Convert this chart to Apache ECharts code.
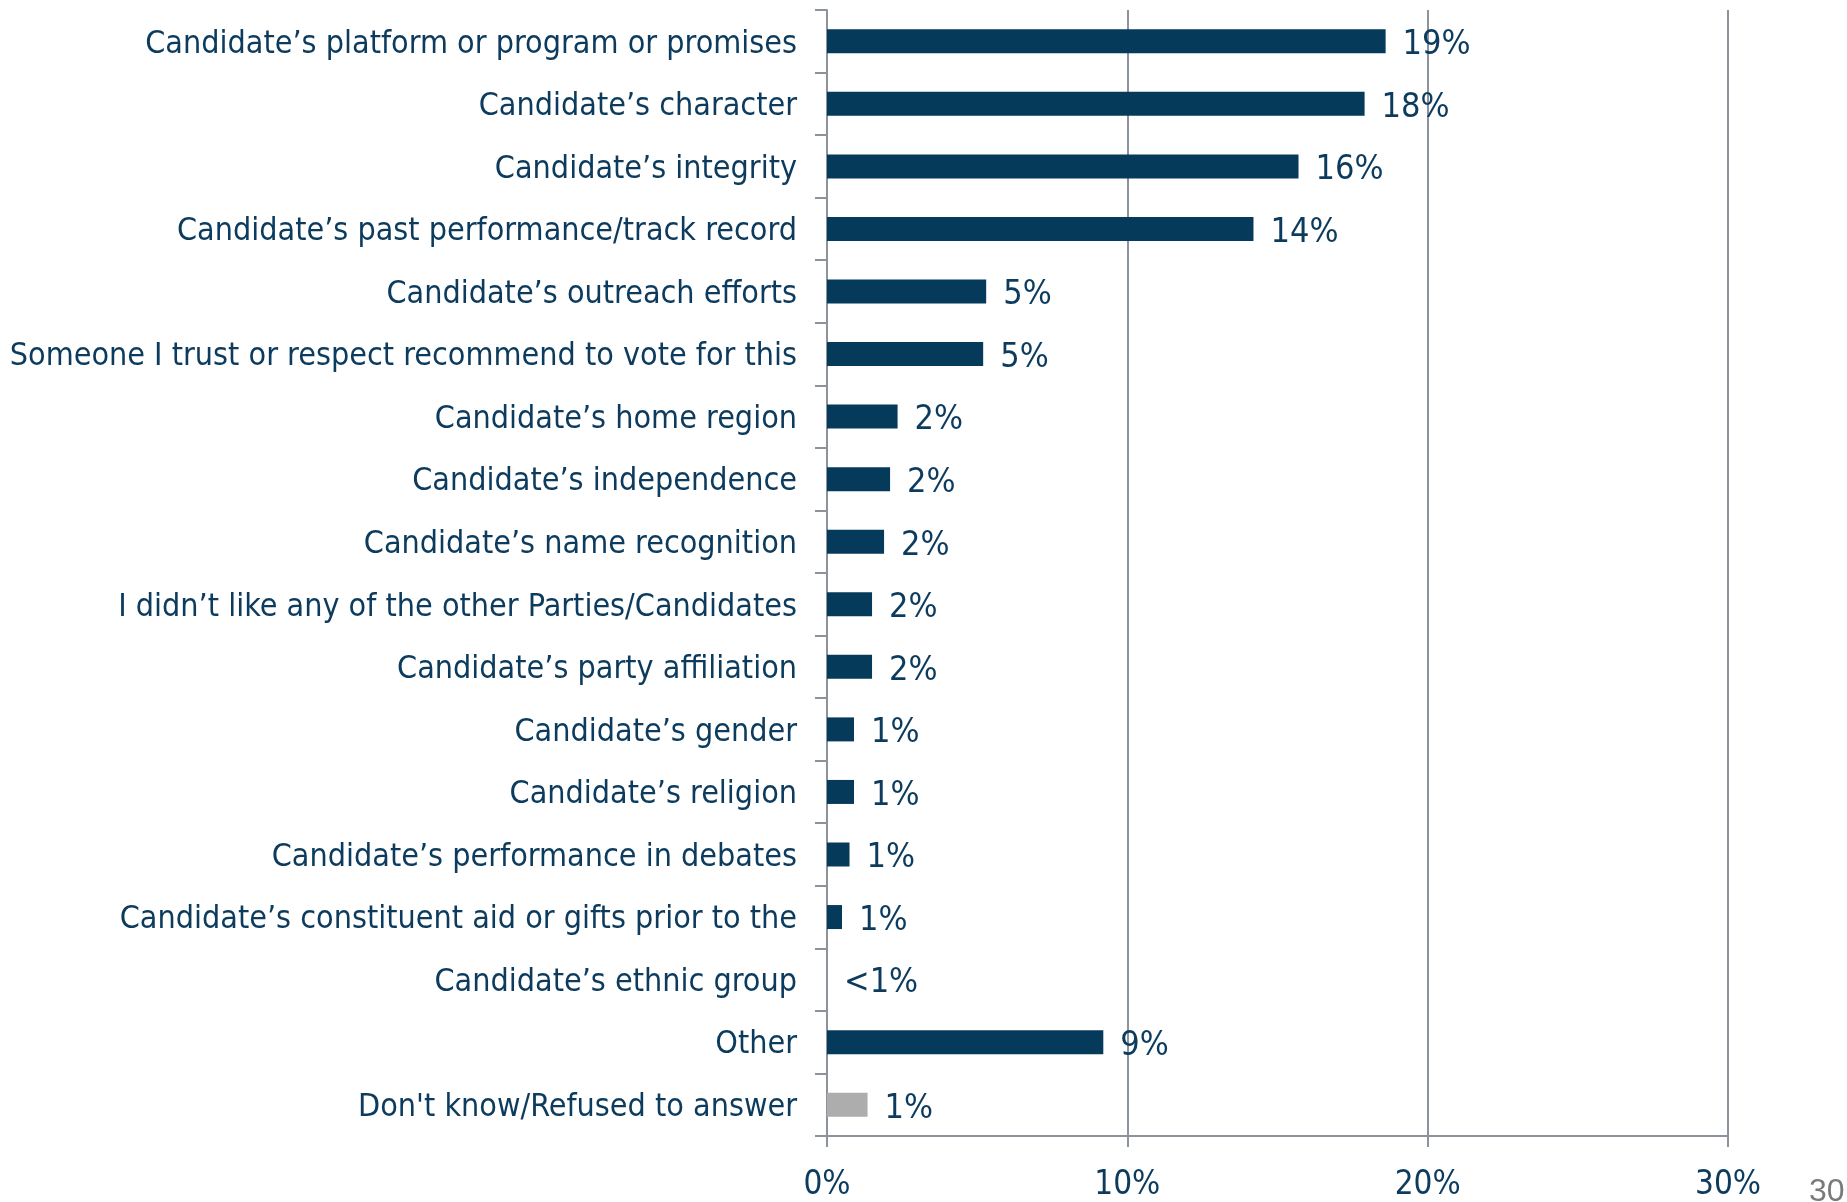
<!DOCTYPE html>
<html>
<head>
<meta charset="utf-8">
<script src="https://cdn.jsdelivr.net/npm/echarts@6/dist/echarts.min.js"></script>
<style>
  html, body { margin: 0; padding: 0; background: #fff; }
  #main { width: 1847px; height: 1202px; }
</style>
</head>
<body>
<div id="main"></div>
<script>
// categories, top to bottom
const categories = [
  'Candidate’s platform or program or promises',
  'Candidate’s character',
  'Candidate’s integrity',
  'Candidate’s past performance/track record',
  'Candidate’s outreach efforts',
  'Someone I trust or respect recommend to vote for this',
  'Candidate’s home region',
  'Candidate’s independence',
  'Candidate’s name recognition',
  'I didn’t like any of the other Parties/Candidates',
  'Candidate’s party affiliation',
  'Candidate’s gender',
  'Candidate’s religion',
  'Candidate’s performance in debates',
  'Candidate’s constituent aid or gifts prior to the',
  'Candidate’s ethnic group',
  'Other',
  "Don't know/Refused to answer"
]
// bar lengths (%)
const values = [18.6, 17.9, 15.7, 14.2, 5.3, 5.2, 2.35, 2.1, 1.9, 1.5, 1.5, 0.9, 0.9, 0.75, 0.5, 0, 9.2, 1.35]
// printed labels
const valueLabels = ['19%', '18%', '16%', '14%', '5%', '5%', '2%', '2%', '2%', '2%', '2%', '1%', '1%', '1%', '1%', '<1%', '9%', '1%']
const barColors = ['#053a5b', '#053a5b', '#053a5b', '#053a5b', '#053a5b', '#053a5b', '#053a5b', '#053a5b', '#053a5b',
  '#053a5b', '#053a5b', '#053a5b', '#053a5b', '#053a5b', '#053a5b', '#053a5b', '#053a5b', '#adadad']
const xTicks = [0, 10, 20, 30]

const textColor = '#0c3b5d'
const gridColor = '#8c939c'
const narrow = "'Liberation Sans Narrow', 'DejaVu Sans Condensed', sans-serif"

let chart = echarts.init(document.getElementById('main'))

const option = {
  animation: false,
  grid: { left: 827, right: 119, top: 10, bottom: 65, containLabel: false },
  xAxis: {
    type: 'value',
    min: xTicks[0],
    max: xTicks[xTicks.length - 1],
    interval: 10,
    axisLine: { show: true, lineStyle: { color: gridColor, width: 2 } },
    axisTick: { show: true, length: 11, lineStyle: { color: gridColor, width: 2 } },
    splitLine: { show: true, lineStyle: { color: gridColor, width: 2 } },
    axisLabel: {
      margin: 33,
      formatter: '{value}%',
      color: textColor,
      fontFamily: narrow,
      fontSize: 33
    }
  },
  yAxis: {
    type: 'category',
    inverse: true,
    data: categories,
    axisLine: { show: true, lineStyle: { color: gridColor, width: 2 } },
    axisTick: { show: true, length: 12, lineStyle: { color: gridColor, width: 2 } },
    axisLabel: {
      margin: 30,
      color: textColor,
      fontFamily: "'DejaVu Sans Condensed', 'DejaVu Sans', sans-serif",
      fontSize: 32,
      lineHeight: 40,
      verticalAlign: 'top',
      padding: [-17, 0, 0, 0]
    }
  },
  series: [{
    type: 'bar',
    barWidth: 24,
    data: values.map((v, i) => ({
      value: v,
      itemStyle: { color: barColors[i] }
    })),
    label: {
      show: true,
      position: 'right',
      distance: 17,
      offset: [0, 4],
      color: textColor,
      fontFamily: narrow,
      fontSize: 34,
      formatter: p => valueLabels[p.dataIndex]
    }
  }],
  graphic: [{
    type: 'text',
    left: 1809,
    top: 1176,
    style: { text: '30', fill: '#7a7a7a', font: "32px 'Liberation Sans Narrow', sans-serif" }
  }]
}

chart.setOption(option)
</script>
</body>
</html>
